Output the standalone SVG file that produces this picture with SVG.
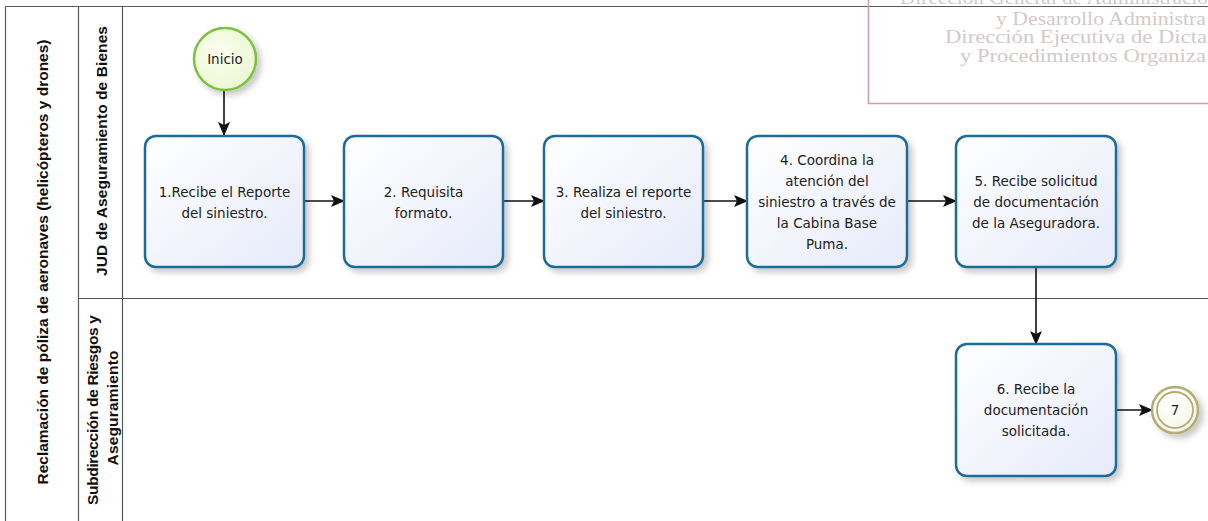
<svg xmlns="http://www.w3.org/2000/svg" width="1208" height="521" viewBox="0 0 1208 521">
  <defs>
    <linearGradient id="taskFill" x1="0" y1="0" x2="1" y2="1">
      <stop offset="0" stop-color="#ffffff"/>
      <stop offset="1" stop-color="#e6eafa"/>
    </linearGradient>
    <radialGradient id="startFill" cx="0.4" cy="0.4" r="0.7">
      <stop offset="0" stop-color="#fbfeef"/>
      <stop offset="1" stop-color="#eaf6cf"/>
    </radialGradient>
    <radialGradient id="endFill" cx="0.4" cy="0.4" r="0.7">
      <stop offset="0" stop-color="#ffffff"/>
      <stop offset="1" stop-color="#f6f4e4"/>
    </radialGradient>
    <filter id="shadow" x="-20%" y="-20%" width="150%" height="150%">
      <feDropShadow dx="4" dy="4" stdDeviation="3" flood-color="#000" flood-opacity="0.22"/>
    </filter>
    <marker id="arrow" markerWidth="14" markerHeight="12" refX="13" refY="6" orient="auto" markerUnits="userSpaceOnUse">
      <path d="M0,0 L14,6 L0,12 L3,6 Z" fill="#111"/>
    </marker>
  </defs>
  <style>
    .frame { stroke: #5a5a5a; stroke-width: 1.2; fill: none; }
    .pool { font-family: "Liberation Sans", Arial, sans-serif; font-weight: bold; font-size: 15.5px; fill: #111; text-anchor: middle; }
    .task rect { fill: url(#taskFill); stroke: #1d6c9a; stroke-width: 2.5; filter: url(#shadow); }
    .task text, .event text { font-family: "DejaVu Sans", Verdana, sans-serif; font-size: 13.5px; fill: #222; text-anchor: middle; }
    .flow { stroke: #111; stroke-width: 1.6; fill: none; marker-end: url(#arrow); }
    .mark { font-family: "Liberation Serif", "Times New Roman", serif; font-size: 19px; fill: #d3c9c9; }
  </style>

  <rect width="1208" height="521" fill="#ffffff"/>

  <!-- pool and lane frame -->
  <g id="pool">
    <line class="frame" x1="5.5" y1="6.5" x2="1208" y2="6.5"/>
    <line class="frame" x1="5.5" y1="6.5" x2="5.5" y2="521"/>
    <line class="frame" x1="78.5" y1="6.5" x2="78.5" y2="521"/>
    <line class="frame" x1="122.5" y1="6.5" x2="122.5" y2="521"/>
    <line class="frame" x1="78.5" y1="298.5" x2="1208" y2="298.5"/>
    <text class="pool" transform="translate(47.5,262) rotate(-90)" textLength="445">Reclamación de póliza de aeronaves (helicópteros y drones)</text>
  </g>
  <g id="lane-jud">
    <text class="pool" transform="translate(106.5,151) rotate(-90)" textLength="250">JUD de Aseguramiento de Bienes</text>
  </g>
  <g id="lane-subdireccion">
    <text class="pool" transform="translate(97.5,410) rotate(-90)" textLength="190">Subdirección de Riesgos y</text>
    <text class="pool" transform="translate(118,408) rotate(-90)" textLength="115">Aseguramiento</text>
  </g>

  <!-- stamp box in the upper right corner -->
  <g id="stamp">
    <path d="M868.5,-2 V103.5 H1210" fill="none" stroke="#c9a2ae" stroke-width="1.6"/>
    <text class="mark" x="900" y="4" textLength="308" lengthAdjust="spacingAndGlyphs">Dirección General de Administració</text>
    <text class="mark" x="996" y="25" textLength="210" lengthAdjust="spacingAndGlyphs">y Desarrollo Administra</text>
    <text class="mark" x="945" y="43" textLength="262" lengthAdjust="spacingAndGlyphs">Dirección Ejecutiva de Dicta</text>
    <text class="mark" x="960" y="62" textLength="246" lengthAdjust="spacingAndGlyphs">y Procedimientos Organiza</text>
  </g>

  <!-- connectors -->
  <g id="connectors">
    <line class="flow" x1="224" y1="91" x2="224" y2="135"/>
    <line class="flow" x1="304" y1="201" x2="344" y2="201"/>
    <line class="flow" x1="503" y1="201" x2="544" y2="201"/>
    <line class="flow" x1="703" y1="201" x2="747" y2="201"/>
    <line class="flow" x1="907" y1="201" x2="956" y2="201"/>
    <line class="flow" x1="1036" y1="267" x2="1036" y2="344"/>
    <line class="flow" x1="1116" y1="410" x2="1152" y2="410"/>
  </g>

  <g id="start" class="event">
    <circle cx="225" cy="59" r="31" fill="url(#startFill)" stroke="#7cc242" stroke-width="2.5" filter="url(#shadow)"/>
    <text x="225" y="64">Inicio</text>
  </g>

  <g id="task1" class="task">
    <rect x="145" y="136" width="159" height="131" rx="11"/>
    <text x="224.5" y="197">1.Recibe el Reporte</text>
    <text x="224.5" y="218">del siniestro.</text>
  </g>
  <g id="task2" class="task">
    <rect x="344" y="136" width="159" height="131" rx="11"/>
    <text x="423.5" y="197">2. Requisita</text>
    <text x="423.5" y="218">formato.</text>
  </g>
  <g id="task3" class="task">
    <rect x="544" y="136" width="159" height="131" rx="11"/>
    <text x="623.5" y="197">3. Realiza el reporte</text>
    <text x="623.5" y="218">del siniestro.</text>
  </g>
  <g id="task4" class="task">
    <rect x="747" y="136" width="160" height="131" rx="11"/>
    <text x="827" y="165">4. Coordina la</text>
    <text x="827" y="186">atención del</text>
    <text x="827" y="207">siniestro a través de</text>
    <text x="827" y="228">la Cabina Base</text>
    <text x="827" y="249">Puma.</text>
  </g>
  <g id="task5" class="task">
    <rect x="956" y="136" width="160" height="131" rx="11"/>
    <text x="1036" y="186">5. Recibe solicitud</text>
    <text x="1036" y="207">de documentación</text>
    <text x="1036" y="228">de la Aseguradora.</text>
  </g>
  <g id="task6" class="task">
    <rect x="956" y="344" width="160" height="132" rx="11"/>
    <text x="1036" y="394">6. Recibe la</text>
    <text x="1036" y="415">documentación</text>
    <text x="1036" y="436">solicitada.</text>
  </g>

  <g id="end7" class="event">
    <circle cx="1175" cy="410" r="23" fill="url(#endFill)" stroke="#b3ad74" stroke-width="2.5" filter="url(#shadow)"/>
    <circle cx="1175" cy="410" r="18" fill="none" stroke="#b3ad74" stroke-width="1.8"/>
    <text x="1175" y="415">7</text>
  </g>
</svg>
